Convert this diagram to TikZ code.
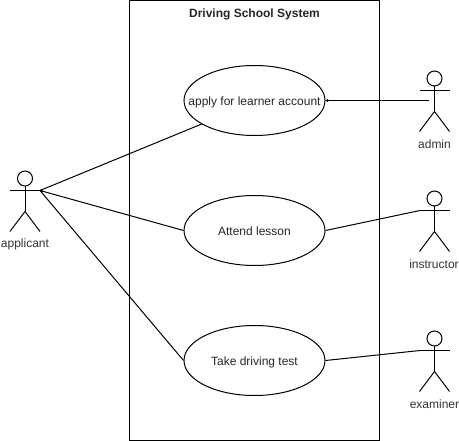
\documentclass[tikz,border=0pt]{standalone}
\usepackage{fontspec}
\setmainfont{Liberation Sans}
\usetikzlibrary{shapes.geometric}
\tikzset{
  ink/.style={line width=1pt,draw=black},
  system/.style={ink,fill=white,minimum width=250pt,minimum height=440pt,inner sep=0pt},
  usecase/.style={ink,ellipse,fill=white,minimum width=141pt,minimum height=70pt,inner sep=0pt,text height=11pt,text depth=0pt,font=\fontsize{12}{14}\selectfont,text=black!85},
  label/.style={font=\fontsize{12}{14}\selectfont,text=black!80,inner sep=0pt},
  title/.style={font=\fontsize{12}{14}\selectfont\bfseries,text=black!85,inner sep=0pt},
  link/.style={line width=1pt,draw=black},
  stickman/.pic={
    \draw[ink] (0,-12) circle (7.5pt);
    \draw[ink] (0,-4.5) -- (0,21);
    \draw[ink] (-15,0) -- (15,0);
    \draw[ink] (-15,41) -- (0,21) -- (15,41);
  }
}
\begin{document}
\begin{tikzpicture}[x=1pt,y=-1pt]
\useasboundingbox (0,0) rectangle (459,441);
\node[system] (sys) at (254.5,220.5) {};
\node[title] (systitle) at (254.5,14) {Driving School System};
\node[usecase] (uc1) at (254.5,100.5) {\makebox[0pt]{apply for learner account}};
\node[usecase] (uc2) at (254.5,230.5) {\makebox[0pt]{Attend lesson}};
\node[usecase] (uc3) at (254.5,360.5) {\makebox[0pt]{Take driving test}};
\pic at (25,190.5) {stickman};
\pic at (434.5,90.5) {stickman};
\pic at (434.5,210.5) {stickman};
\pic at (434.5,350.5) {stickman};
\coordinate (applicant) at (40,190.5);
\coordinate (admin) at (429,100.5);
\coordinate (instructor) at (420,210.5);
\coordinate (examiner) at (420,350.5);
\node[label] (applabel) at (25,244) {applicant};
\node[label] (adminlabel) at (434.5,144) {admin};
\node[label] (instlabel) at (434,264) {instructor};
\node[label] (examlabel) at (434.5,404) {examiner};
\draw[link] (applicant) -- (uc1.204);
\draw[link] (applicant) -- (uc2.west);
\draw[link] (applicant) -- (uc3.west);
\fill (applicant) ++(-1,0) -- ++(3.5,-1.6) -- ++(0,3.2) -- cycle;
\draw[link] (uc1.east) -- (admin);
\fill (uc1.east) -- ++(2.5,-1.6) -- ++(0,3.2) -- cycle;
\draw[link] (uc2.east) -- (instructor);
\draw[link] (uc3.east) -- (examiner);
\end{tikzpicture}
\end{document}
